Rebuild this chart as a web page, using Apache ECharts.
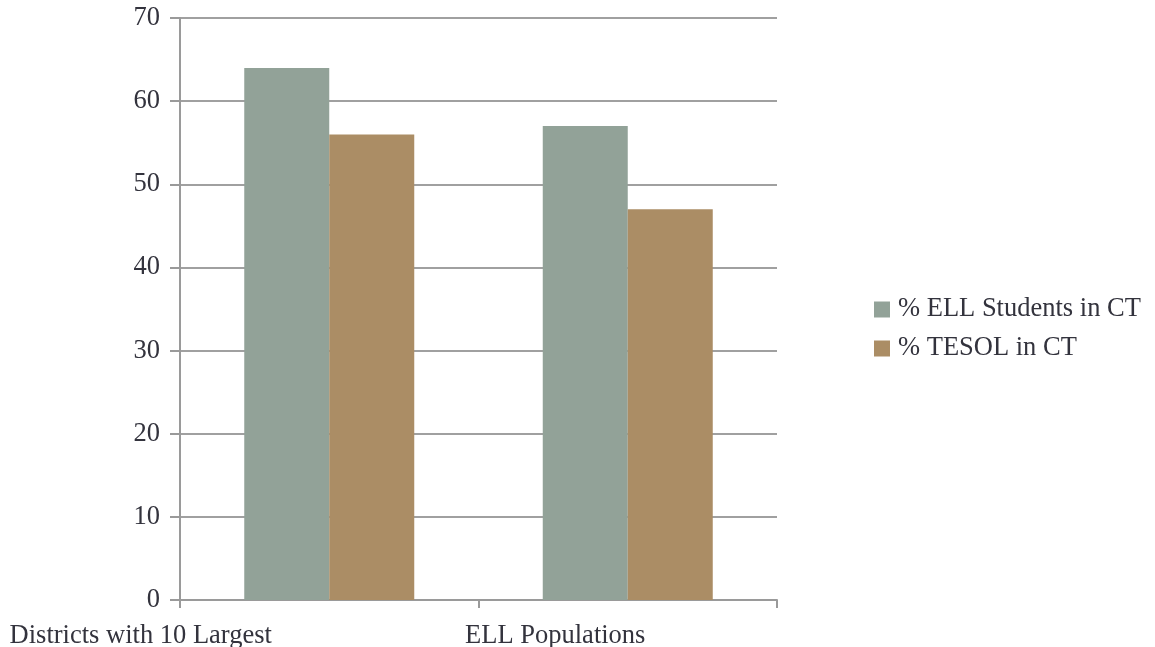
<!DOCTYPE html>
<html>
<head>
<meta charset="utf-8">
<script src="https://cdn.jsdelivr.net/npm/echarts@6/dist/echarts.min.js"></script>
<style>html,body{margin:0;padding:0;background:#fff}#c{width:1155px;height:647px}</style>
</head>
<body>
<div id="c"></div>
<script>
const categories = ['Districts with 10 Largest', 'ELL Populations'];
const seriesNames = ['% ELL Students in CT', '% TESOL in CT'];
const ellStudents = [64, 57];
const tesol = [56, 47];
const yTicks = [0, 10, 20, 30, 40, 50, 60, 70];

const FONT = '"Liberation Serif", "Times New Roman", serif';
const FS = 26.5;
const TXT = '#33333d';
const chart = echarts.init(document.getElementById('c'), null, {renderer: 'canvas'});
chart.setOption({
  animation: false,
  textStyle: {fontFamily: FONT},
  grid: {left: 180, right: 378, top: 18, bottom: 47, containLabel: false, outerBoundsMode: 'none'},
  legend: {
    orient: 'vertical', left: 874, top: 296, padding: 0, itemWidth: 16, itemHeight: 16, itemGap: 12,
    icon: 'rect',
    textStyle: {fontFamily: FONT, fontSize: FS, color: TXT, padding: [0, 0, 0, 3]},
    data: seriesNames
  },
  xAxis: {
    type: 'category', data: categories,
    axisLine: {lineStyle: {color: '#9a9a9a', width: 2}},
    axisTick: {show: true, length: 8, lineStyle: {color: '#9a9a9a', width: 2}},
    axisLabel: {
      interval: 0, margin: 23,
      formatter: function (v, i) { return i === 0 ? '{a|' + v + '}' : '{b|' + v + '}'; },
      rich: {
        a: {fontFamily: FONT, fontSize: FS, color: TXT, padding: [0, 377, 0, 0]},
        b: {fontFamily: FONT, fontSize: FS, color: TXT, padding: [0, 145, 0, 0]}
      }
    }
  },
  yAxis: {
    type: 'value', min: 0, max: 70, interval: 10,
    axisLine: {show: true, lineStyle: {color: '#9a9a9a', width: 2}},
    axisTick: {show: true, length: 10, lineStyle: {color: '#9a9a9a', width: 2}},
    splitLine: {lineStyle: {color: '#a0a0a0', width: 2}},
    axisLabel: {margin: 20, fontFamily: FONT, fontSize: FS, color: TXT,
      formatter: function (v) { return yTicks.indexOf(v) >= 0 ? String(v) : ''; }}
  },
  series: [
    {name: seriesNames[0], type: 'bar', data: ellStudents, barWidth: 85, barGap: '0%',
     itemStyle: {color: '#92a298'}},
    {name: seriesNames[1], type: 'bar', data: tesol, barWidth: 85, barGap: '0%',
     itemStyle: {color: '#ab8d65'}}
  ]
});
</script>
</body>
</html>
